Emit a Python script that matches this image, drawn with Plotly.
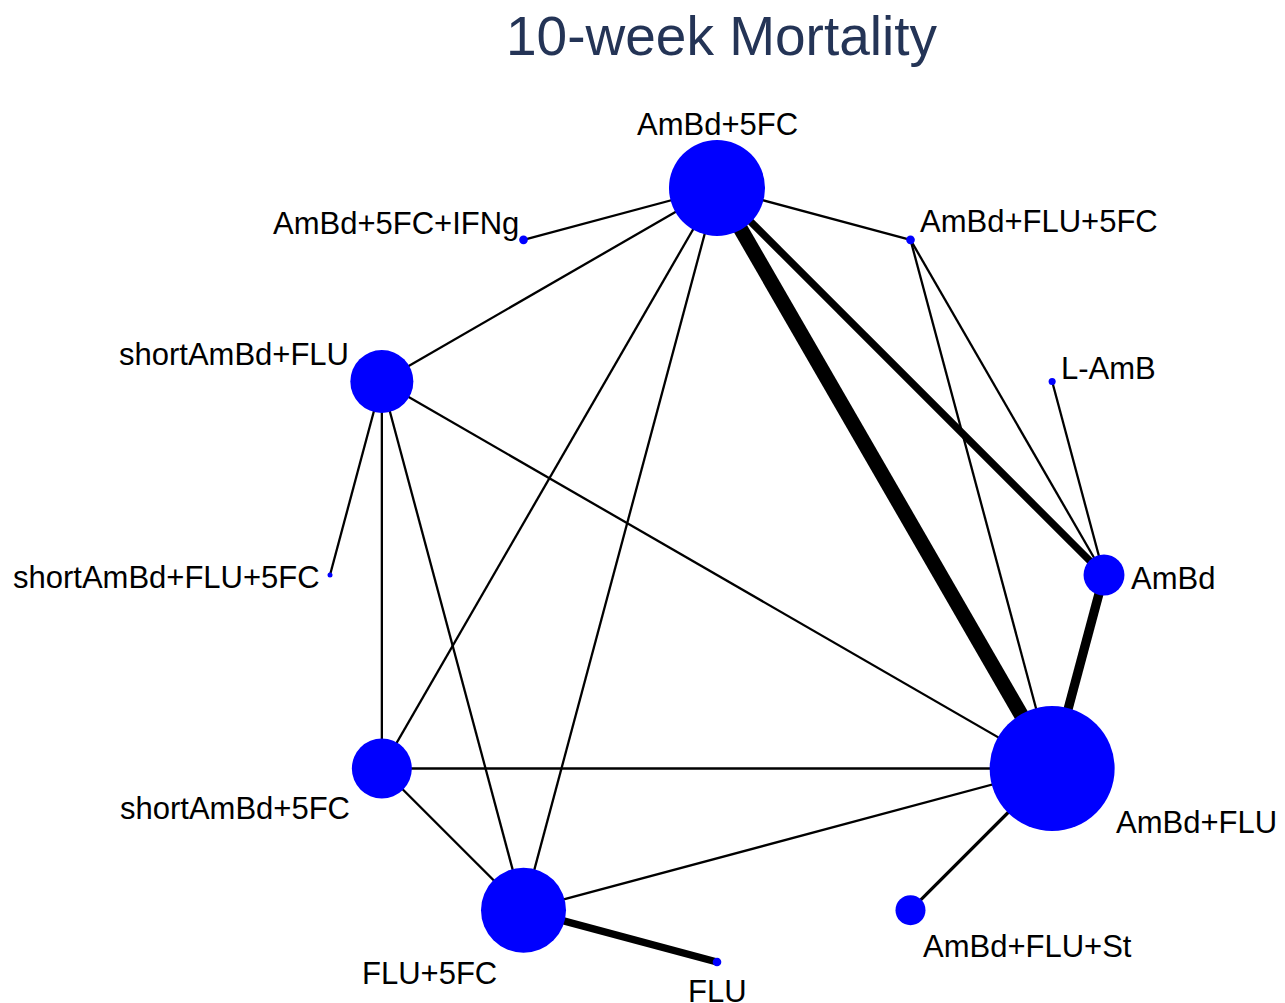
"""
    Network graph of treatment comparisons, 10-week mortality
"""

##########==========##########==========##########==========##########==========
## INITIALIZE ENVIRONMENT

## libraries
import numpy as np
import plotly.graph_objects as go

## data
title = '10-week Mortality'

## treatments, in circular order (clockwise from the top)
nodes = [
    'AmBd+5FC', 'AmBd+FLU+5FC', 'L-AmB', 'AmBd', 'AmBd+FLU', 'AmBd+FLU+St',
    'FLU', 'FLU+5FC', 'shortAmBd+5FC', 'shortAmBd+FLU+5FC', 'shortAmBd+FLU',
    'AmBd+5FC+IFNg',
]

## node weight (marker area)
node_weight = [369, 3, 2, 67, 625, 36, 3, 289, 144, 1, 159, 3]

## direct comparisons and their weights
edge_from = [
    'AmBd+5FC', 'AmBd+5FC', 'AmBd+5FC', 'AmBd+5FC', 'AmBd+5FC', 'AmBd+5FC',
    'AmBd+5FC', 'AmBd+FLU+5FC', 'AmBd+FLU+5FC', 'L-AmB', 'AmBd', 'AmBd+FLU',
    'AmBd+FLU', 'AmBd+FLU', 'AmBd+FLU', 'FLU+5FC', 'FLU+5FC', 'FLU+5FC',
    'shortAmBd+FLU', 'shortAmBd+FLU',
]
edge_to = [
    'AmBd+5FC+IFNg', 'AmBd+FLU+5FC', 'shortAmBd+FLU', 'shortAmBd+5FC',
    'FLU+5FC', 'AmBd+FLU', 'AmBd', 'AmBd', 'AmBd+FLU', 'AmBd', 'AmBd+FLU',
    'shortAmBd+FLU', 'shortAmBd+5FC', 'FLU+5FC', 'AmBd+FLU+St', 'FLU',
    'shortAmBd+5FC', 'shortAmBd+FLU', 'shortAmBd+5FC', 'shortAmBd+FLU+5FC',
]
edge_weight = [1, 1, 1, 1, 1, 6.5, 3.2, 1, 1, 1, 4, 1, 1, 1, 1.4, 3.2, 1, 1,
               1, 1]

## label placement: (xanchor, xshift px, yshift px down)
label_place = [
    ('center', 0, -64), ('left', 7, -18.5), ('left', 7, -13.5),
    ('left', 25, 3.5), ('left', 62, 53.5), ('left', 10, 36.5),
    ('center', 0, 29), ('right', -25, 63), ('right', -30, 40),
    ('right', -8, 2), ('right', -31, -27), ('right', -3, -16),
]

## parameters (page body adds an 8px margin)
params = dict(
    width = 1277, height = 995,
    cx = 709, cy = 567, radius = 387,
    font = 'Arial, Liberation Sans, Helvetica, sans-serif',
)

##########==========##########==========##########==========##########==========
## DEFINE DRAWING FUNCTIONS


def circle_layout():
    """
        Unit-circle positions, first node at the top, going clockwise
    """
    angle = np.deg2rad(90 - 360 / len(nodes) * np.arange(len(nodes)))
    return dict(zip(nodes, zip(np.cos(angle), np.sin(angle))))


def draw_background():
    global fig
    p = params
    fig = go.Figure()
    fig.update_layout(
        width = p['width'], height = p['height'],
        margin = dict(l = 0, r = 0, t = 0, b = 0),
        paper_bgcolor = 'white', plot_bgcolor = 'white',
        showlegend = False,
        title = dict(
            text = title, x = 713.5 / p['width'], xanchor = 'center',
            y = 1 - 28 / p['height'], yanchor = 'middle',
            xref = 'container', yref = 'container',
            font = dict(family = p['font'], size = 55, color = '#243456'),
        ),
    )
    fig.update_xaxes(
        visible = False, fixedrange = True,
        range = [-p['cx'] / p['radius'], (p['width'] - p['cx']) / p['radius']],
    )
    fig.update_yaxes(
        visible = False, fixedrange = True,
        range = [-(p['height'] - p['cy']) / p['radius'], p['cy'] / p['radius']],
    )


def draw_edges(pos):
    for a, b, w in zip(edge_from, edge_to, edge_weight):
        fig.add_trace(go.Scatter(
            x = [pos[a][0], pos[b][0]], y = [pos[a][1], pos[b][1]],
            mode = 'lines', line = dict(color = 'black', width = 2.3 * w),
            hoverinfo = 'skip',
        ))


def draw_nodes(pos):
    fig.add_trace(go.Scatter(
        x = [pos[n][0] for n in nodes], y = [pos[n][1] for n in nodes],
        mode = 'markers', text = nodes, hoverinfo = 'text',
        marker = dict(
            size = node_weight, sizemode = 'area', sizeref = 0.08,
            color = '#0000ff', opacity = 1, line = dict(width = 0),
        ),
    ))
    for n, (anchor, dx, dy) in zip(nodes, label_place):
        fig.add_annotation(
            x = pos[n][0], y = pos[n][1], text = n, showarrow = False,
            xanchor = anchor, yanchor = 'middle', xshift = dx, yshift = -dy,
            font = dict(family = params['font'], size = 31, color = 'black'),
        )


##########==========##########==========##########==========##########==========
## EXECUTE FUNCTIONS

if __name__ == '__main__':

    pos = circle_layout()
    draw_background()
    draw_edges(pos)
    draw_nodes(pos)

    ## write figure to disk
    fig.write_html('out.html')
